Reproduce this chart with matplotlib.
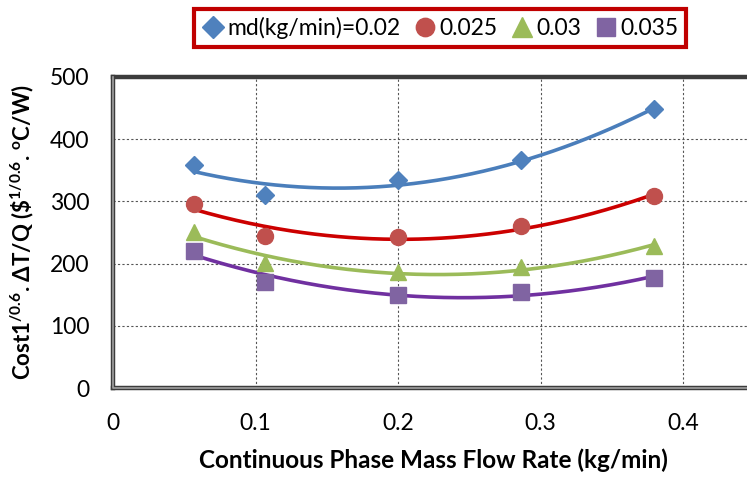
import numpy as np
import matplotlib
matplotlib.use("Agg")
import matplotlib.pyplot as plt

plt.rcParams['font.family'] = ['Lato', 'DejaVu Sans']
plt.rcParams['mathtext.default'] = 'regular'

# data
flow = [0.057, 0.107, 0.200, 0.286, 0.380]
md_labels = ['md(kg/min)=0.02', '0.025', '0.03', '0.035']
cost_002 = [358, 310, 334, 366, 448]
cost_0025 = [296, 245, 243, 260, 309]
cost_003 = [251, 201, 186, 195, 228]
cost_0035 = [221, 171, 150, 155, 177]

series = [cost_002, cost_0025, cost_003, cost_0035]
markers = ['D', 'o', '^', 's']
msizes = [9.5, 11.5, 12, 11]
mcolors = ['#4F81BD', '#C0504D', '#9BBB59', '#8064A2']
lcolors = ['#4A7EBB', '#CC0000', '#9BBB59', '#7030A0']

fig = plt.figure(figsize=(7.47, 4.79), dpi=100)
ax = fig.add_axes([0.1513, 0.1894, 0.8584, 0.6503])

x = np.array(flow)
xs = np.linspace(x.min(), x.max(), 200)
handles = []
for ys, mk, ms, mc, lc in zip(series, markers, msizes, mcolors, lcolors):
    # excel style 2nd order polynomial trendline
    coef = np.polyfit(x, ys, 2)
    ax.plot(xs, np.polyval(coef, xs), color=lc, lw=2.6, zorder=3)
    h, = ax.plot(x, ys, linestyle='none', marker=mk, ms=ms, color=mc,
                 markeredgecolor=mc, zorder=4)
    handles.append(h)

ax.set_xlim(0, 0.45)
ax.set_ylim(0, 500)
ax.set_xticks([0, 0.1, 0.2, 0.3, 0.4])
ax.set_xticklabels(['0', '0.1', '0.2', '0.3', '0.4'])
ax.set_yticks([0, 100, 200, 300, 400, 500])
ax.tick_params(axis='both', length=0, labelsize=16.5)
ax.tick_params(axis='x', pad=18)
ax.tick_params(axis='y', pad=17)
ax.grid(True, color='#555555', linestyle=(0, (2, 2)), linewidth=0.8)

for s in ['left', 'bottom', 'top']:
    ax.spines[s].set_linewidth(3.2)
    ax.spines[s].set_color('#3c3c3c')
ax.spines['right'].set_visible(False)
# lighter inner stroke for the double border look
ax.plot([0, 0, 1.2], [1, 0, 0], transform=ax.transAxes, color='#a0a0a0',
        lw=1.2, clip_on=False, zorder=6)

ax.set_xlabel('Continuous Phase Mass Flow Rate (kg/min)', fontsize=17.5,
              fontweight='bold', labelpad=10)
ax.set_ylabel(r'Cost1$^{/0.6}$. $\Delta$T/Q (\$$^{1/0.6}$. $^{o}$C/W)',
              fontsize=16, fontweight='bold', labelpad=10)

leg = fig.legend(handles, md_labels, loc='center', ncol=4,
                 bbox_to_anchor=(0.589, 0.942), fontsize=16.5,
                 handletextpad=0.1, columnspacing=0.6, handlelength=1.0,
                 borderpad=0.35, markerscale=1.15, fancybox=False,
                 framealpha=1)
leg.get_frame().set_edgecolor('#C00000')
leg.get_frame().set_linewidth(3)

fig.savefig('out.png', dpi=100)
